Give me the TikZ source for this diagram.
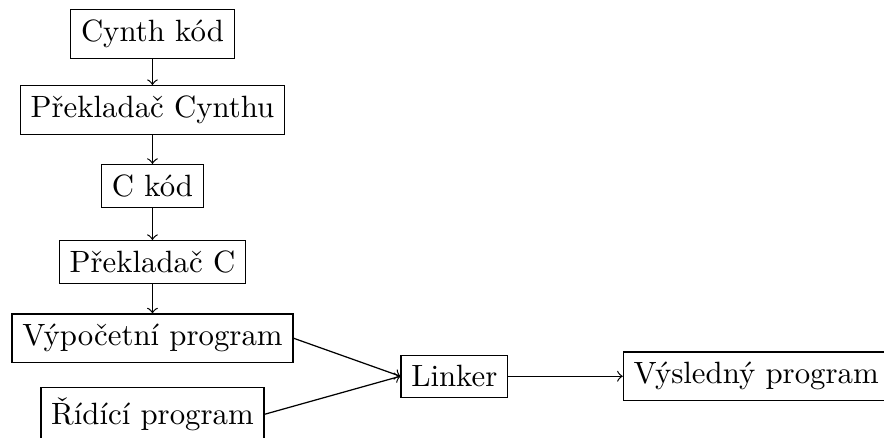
\documentclass[tikz,border=0pt]{standalone}
\usepackage{fontspec}
\usepackage{tikz}
\usetikzlibrary{calc, positioning}

\begin{document}
\begin{tikzpicture}[box/.style = {draw, rectangle}, node distance = 24.7pt, on grid]
            \useasboundingbox (0, 0) rectangle (287pt, -141.9pt);
            
            \node[box] (cynth_code) at (49.5pt, -11pt) {Cynth kód};
            \node[box, below = of cynth_code] (cynth_comp) {Překladač Cynthu};
            \node[box, below = of cynth_comp] (c_code) {C kód};
            \node[box, below = of c_code] (c_comp) {Překladač C};
            \node[box, below = of c_comp] (calc_prog) {Výpočetní program};
            \node[box, below = of calc_prog] (ctrl_prog) {Řídící program};
            
            \node[box] (linker) at ($(calc_prog)!0.5!(ctrl_prog) + (98pt, 0)$) {Linker};
            \node[box, right = 98pt of linker] (result) {Výsledný program};
            
            \draw[->] (cynth_code) -- (cynth_comp);
            \draw[->] (cynth_comp) -- (c_code);
            \draw[->] (c_code) -- (c_comp);
            \draw[->] (c_comp) -- (calc_prog);
            
            \draw[->] (calc_prog.east) -- (linker.west);
            \draw[->] (ctrl_prog.east) -- (linker.west);
            \draw[->] (linker) -- (result);
        \end{tikzpicture}
\end{document}
